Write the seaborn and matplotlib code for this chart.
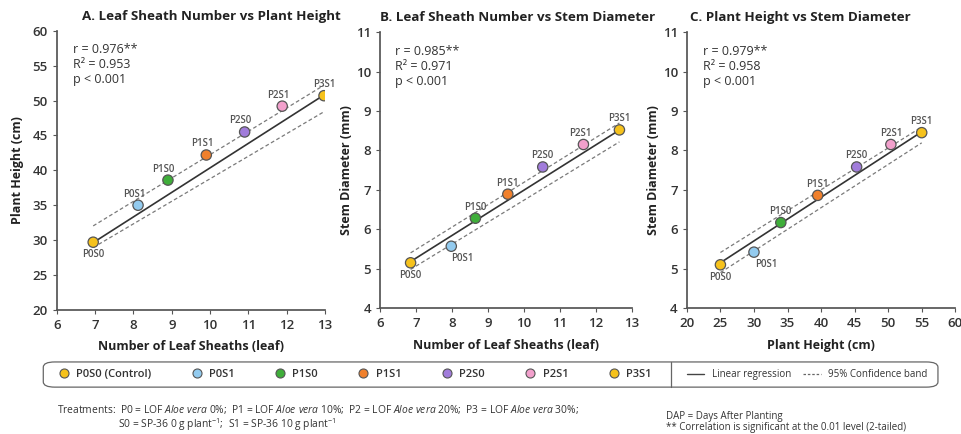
import numpy as np
import pandas as pd
import matplotlib
matplotlib.use("Agg")
import matplotlib.pyplot as plt
from matplotlib.lines import Line2D
from matplotlib.patches import FancyBboxPatch
import seaborn as sns

# %% data
treatments = ["P0S0", "P0S1", "P1S0", "P1S1", "P2S0", "P2S1", "P3S1"]
legend_names = ["P0S0 (Control)", "P0S1", "P1S0", "P1S1", "P2S0", "P2S1", "P3S1"]
colors = ["#F6C21C", "#93CBEF", "#3FAE3A", "#F0802C", "#A17CDB", "#F2A0CC", "#F6C21C"]

leaf_a = [6.95, 8.12, 8.9, 9.9, 10.9, 11.88, 12.97]
height_a = [29.7, 35.0, 38.6, 42.2, 45.5, 49.2, 50.7]

leaf_b = [6.85, 7.98, 8.65, 9.55, 10.52, 11.65, 12.65]
diam_b = [5.15, 5.57, 6.28, 6.89, 7.58, 8.15, 8.52]

height_c = [25.0, 30.0, 34.0, 39.5, 45.3, 50.4, 55.0]
diam_c = [5.1, 5.42, 6.17, 6.86, 7.58, 8.15, 8.45]

stats_a = ["r = 0.976**", "R² = 0.953", "p < 0.001"]
stats_b = ["r = 0.985**", "R² = 0.971", "p < 0.001"]
stats_c = ["r = 0.979**", "R² = 0.958", "p < 0.001"]

# regression line as drawn (slope, intercept) and CI offsets at (first, last) x
fit_a = (3.516, 5.20)
fit_b = (0.575, 1.243)
fit_c = (0.1107, 2.384)
ci_upper_a, ci_lower_a = (2.4, 1.4), (-0.7, -2.4)
ci_upper_b, ci_lower_b = (0.22, 0.18), (-0.2, -0.3)
ci_upper_c, ci_lower_c = (0.26, 0.12), (-0.25, -0.28)

# %% style
sns.set_theme(style="ticks")
plt.rcParams["font.family"] = ["Open Sans", "DejaVu Sans"]
plt.rcParams["mathtext.fontset"] = "custom"
plt.rcParams["mathtext.rm"] = "Open Sans"
plt.rcParams["mathtext.it"] = "Open Sans:italic"
plt.rcParams["axes.edgecolor"] = "#555555"
plt.rcParams["xtick.color"] = "#555555"
plt.rcParams["ytick.color"] = "#555555"

fig = plt.figure(figsize=(9.62, 4.34), dpi=100)
axA = fig.add_axes([0.059, 0.286, 0.279, 0.643])
axB = fig.add_axes([0.395, 0.290, 0.262, 0.636])
axC = fig.add_axes([0.714, 0.290, 0.279, 0.636])

# label placement (dx, dy in points), below = negative dy
place_a = [(0, -9), (-3, 8), (-3, 8), (-3, 8), (-3, 8), (-3, 8), (0, 8)]
place_b = [(0, -9), (8, -9), (0, 8), (0, 8), (0, 8), (-2, 8), (0, 8)]
place_c = [(0, -9), (9, -9), (0, 8), (0, 8), (0, 8), (0, 8), (0, 8)]

panels = [
    (axA, leaf_a, height_a, stats_a, fit_a, ci_upper_a, ci_lower_a, place_a,
     "A. Leaf Sheath Number vs Plant Height", "Number of Leaf Sheaths (leaf)",
     "Plant Height (cm)", (6, 13), (20, 60), np.arange(6, 14, 1), np.arange(20, 61, 5), 0.093, 6),
    (axB, leaf_b, diam_b, stats_b, fit_b, ci_upper_b, ci_lower_b, place_b,
     "B. Leaf Sheath Number vs Stem Diameter", "Number of Leaf Sheaths (leaf)",
     "Stem Diameter (mm)", (6, 13), (4, 11), np.arange(6, 14, 1), np.arange(4, 12, 1), 0.0, 2),
    (axC, height_c, diam_c, stats_c, fit_c, ci_upper_c, ci_lower_c, place_c,
     "C. Plant Height vs Stem Diameter", "Plant Height (cm)",
     "Stem Diameter (mm)", (20, 60), (4, 11), np.arange(20, 61, 5), np.arange(4, 12, 1), 0.01, 2),
]

for (ax, xs, ys, st, fit, ciu, cil, place, title, xlab, ylab,
     xlim, ylim, xt, yt, tx, ypad) in panels:
    df = pd.DataFrame({"x": xs, "y": ys, "Treatment": treatments})
    slope, intercept = fit
    fx = np.array([df.x.min(), df.x.max()])
    fy = slope * fx + intercept
    ax.plot(fx, fy, color="#333333", lw=1.2, zorder=2)
    ax.plot(fx, fy + np.array(ciu), color="#7a7a7a", lw=0.9, ls=(0, (3, 2)), zorder=2)
    ax.plot(fx, fy + np.array(cil), color="#7a7a7a", lw=0.9, ls=(0, (3, 2)), zorder=2)
    sns.scatterplot(data=df, x="x", y="y", hue="Treatment", palette=colors,
                    s=55, edgecolor="#555555", linewidth=0.9, legend=False,
                    ax=ax, zorder=3)
    for t, x, y, (dx, dy) in zip(treatments, xs, ys, place):
        ax.annotate(t, (x, y), xytext=(dx, dy), textcoords="offset points",
                    ha="center", va="center", fontsize=7, fontweight="semibold",
                    color="#555555")
    ax.set_xlim(*xlim)
    ax.set_ylim(*ylim)
    ax.set_xticks(xt)
    ax.set_yticks(yt)
    ax.tick_params(labelsize=9.5, length=3, width=0.8, labelcolor="#333333")
    for lab in ax.get_xticklabels() + ax.get_yticklabels():
        lab.set_fontweight("semibold")
    ax.set_xlabel(xlab, fontsize=9, fontweight="bold", color="#222222", labelpad=6)
    ax.set_ylabel(ylab, fontsize=9, fontweight="bold", color="#222222", labelpad=ypad)
    ax.set_title(title, fontsize=9.6, fontweight="bold", color="#222222",
                 loc="left", x=tx, pad=8)
    sns.despine(ax=ax)
    ax.text(0.06, 0.955, "\n".join(st), transform=ax.transAxes, ha="left", va="top",
            fontsize=9, color="#333333", linespacing=1.2)

# %% legend box
box = FancyBboxPatch((0.045, 0.108), 0.93, 0.058, boxstyle="round,pad=0,rounding_size=0.012",
                     transform=fig.transFigure, fill=False, edgecolor="#666666", lw=0.9)
fig.add_artist(box)
fig.add_artist(Line2D([0.697, 0.697], [0.108, 0.166], transform=fig.transFigure,
                      color="#666666", lw=0.9))

marker_handles = [Line2D([], [], ls="none", marker="o", markersize=6.5, markerfacecolor=c,
                         markeredgecolor="#555555", markeredgewidth=0.8)
                  for c in colors]
leg1 = fig.legend(marker_handles, legend_names, loc="center left", bbox_to_anchor=(0.05, 0.137),
                  ncol=7, frameon=False, fontsize=8, columnspacing=3.6, handletextpad=0.6,
                  handlelength=1.0)
for t in leg1.get_texts():
    t.set_fontweight("semibold")
    t.set_color("#333333")

line_handles = [Line2D([], [], color="#444444", lw=1),
                Line2D([], [], color="#666666", lw=0.9, ls=(0, (2, 1.5)))]
leg2 = fig.legend(line_handles, ["Linear regression", "95% Confidence band"], loc="center left",
                  bbox_to_anchor=(0.705, 0.137), ncol=2, frameon=False, fontsize=7,
                  columnspacing=1.2, handlelength=1.8, handletextpad=0.8)
for t in leg2.get_texts():
    t.set_color("#333333")

# %% footnotes
foot = dict(fontsize=7.4, color="#333333", va="center")
fig.text(0.059, 0.056, r"Treatments:  P0 = LOF $\it{Aloe\ vera}$ 0%;  P1 = LOF $\it{Aloe\ vera}$ 10%;  "
         r"P2 = LOF $\it{Aloe\ vera}$ 20%;  P3 = LOF $\it{Aloe\ vera}$ 30%;", **foot)
fig.text(0.123, 0.022, "S0 = SP-36 0 g plant$^{-1}$;  S1 = SP-36 10 g plant$^{-1}$", **foot)
fig.text(0.692, 0.040, "DAP = Days After Planting", fontsize=7, color="#333333", va="center")
fig.text(0.692, 0.016, "** Correlation is significant at the 0.01 level (2-tailed)",
         fontsize=7, color="#333333", va="center")

fig.savefig("out.png", dpi=100)
